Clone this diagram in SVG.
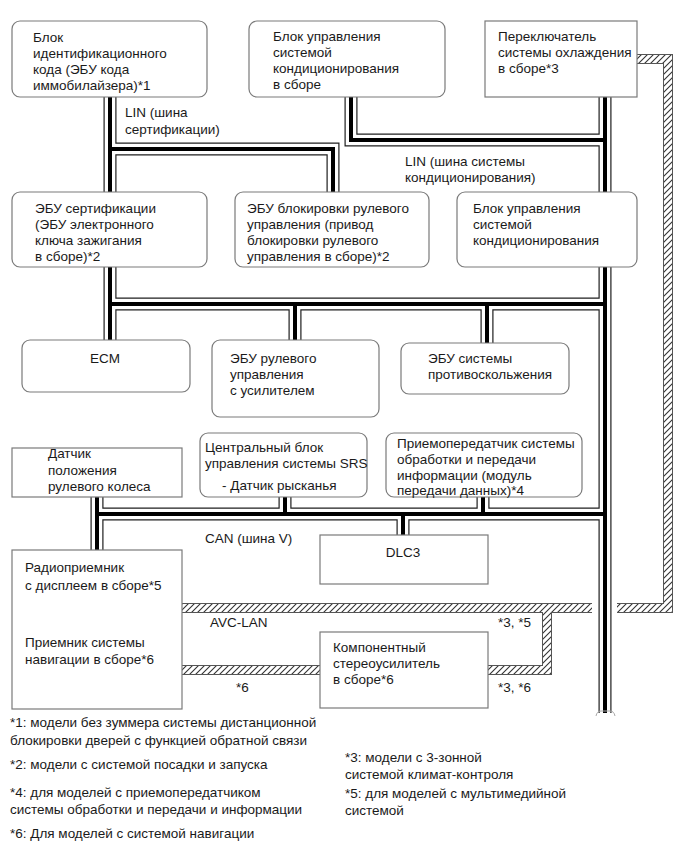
<svg xmlns="http://www.w3.org/2000/svg" width="690" height="855" viewBox="0 0 690 855">
<style>
.box{fill:#fff;stroke:#7a7a7a;stroke-width:1.2}
.t{font-family:"Liberation Sans",Arial,sans-serif;font-size:13.5px;fill:#1a1a1a}
.m{text-anchor:middle}
.bo{fill:none;stroke:#1e1e1e;stroke-width:13}
.bw{fill:none;stroke:#fff;stroke-width:10.6}
.bi{fill:none;stroke:#000;stroke-width:4}
.ho{fill:none;stroke:#555;stroke-width:10;stroke-linejoin:miter}
.hw{fill:none;stroke:url(#hatch);stroke-width:8;stroke-linejoin:miter}
</style>
<defs>
<pattern id="hatch" patternUnits="userSpaceOnUse" width="6" height="6">
<rect width="6" height="6" fill="#fff"/>
<path d="M-1,7 L7,-1 M-1,1 L1,-1 M5,7 L7,5" stroke="#333" stroke-width="1.1"/>
</pattern>
<path id="bus" d="M110,95 V194 M110,149 H333 V194 M351,95 V140 H605 M605,95 V194 M110,265 V342 M110,304 H605 M295,304 V342 M487,304 V345 M605,265 V713 M97,495 V552 M97,514 H605 M285,495 V514 M483,495 V514 M403,514 V537"/>
<path id="avc" d="M635,59 H668 V608 H617 M180,608 H592 M547,608 V670 H486 M180,670 H322"/>
</defs>
<g id="connectors">
<use href="#bus" class="bo"/>
<use href="#bus" class="bw"/>
<use href="#bus" class="bi"/>
<use href="#avc" class="ho"/>
<use href="#avc" class="hw"/>
<path d="M596,716 Q597,711 601,711 H610 Q614,711 615,716" fill="none" stroke="#aaa" stroke-width="1"/>
<text class="t" x="125" y="117">LIN (шина</text>
<text class="t" x="125" y="134">сертификации)</text>
<text class="t" x="405" y="166">LIN (шина системы</text>
<text class="t" x="405" y="182">кондиционирования)</text>
<text class="t" x="205" y="543">CAN (шина V)</text>
<text class="t" x="210" y="627">AVC-LAN</text>
<text class="t" x="236" y="692">*6</text>
<text class="t" x="498" y="627">*3, *5</text>
<text class="t" x="498" y="692">*3, *6</text>
</g>
<g id="immobiliser">
<rect class="box" x="12" y="21" width="195" height="76" rx="8"/>
<text class="t" x="33" y="42">Блок</text>
<text class="t" x="33" y="58">идентификационного</text>
<text class="t" x="33" y="74">кода (ЭБУ кода</text>
<text class="t" x="33" y="90">иммобилайзера)*1</text>
</g>
<g id="ac-assembly">
<rect class="box" x="249" y="21" width="196" height="76" rx="8"/>
<text class="t" x="273" y="41">Блок управления</text>
<text class="t" x="273" y="57">системой</text>
<text class="t" x="273" y="73">кондиционирования</text>
<text class="t" x="273" y="89">в сборе</text>
</g>
<g id="cooling-switch">
<rect class="box" x="485" y="21" width="152" height="76"/>
<text class="t" x="498" y="41">Переключатель</text>
<text class="t" x="498" y="57">системы охлаждения</text>
<text class="t" x="498" y="73">в сборе*3</text>
</g>
<g id="cert-ecu">
<rect class="box" x="12" y="192" width="195" height="75" rx="8"/>
<text class="t" x="35" y="213">ЭБУ сертификации</text>
<text class="t" x="35" y="229">(ЭБУ электронного</text>
<text class="t" x="35" y="245">ключа зажигания</text>
<text class="t" x="35" y="261">в сборе)*2</text>
</g>
<g id="steering-lock-ecu">
<rect class="box" x="235" y="192" width="194" height="75" rx="8"/>
<text class="t" x="247" y="213">ЭБУ блокировки рулевого</text>
<text class="t" x="247" y="229">управления (привод</text>
<text class="t" x="247" y="245">блокировки рулевого</text>
<text class="t" x="247" y="261">управления в сборе)*2</text>
</g>
<g id="ac-ecu">
<rect class="box" x="457" y="192" width="180" height="75" rx="8"/>
<text class="t" x="473" y="213">Блок управления</text>
<text class="t" x="473" y="229">системой</text>
<text class="t" x="473" y="245">кондиционирования</text>
</g>
<g id="ecm">
<rect class="box" x="22" y="340" width="168" height="52" rx="8"/>
<text class="t m" x="105" y="363">ECM</text>
</g>
<g id="eps-ecu">
<rect class="box" x="212" y="340" width="167" height="77" rx="8"/>
<text class="t" x="230" y="363">ЭБУ рулевого</text>
<text class="t" x="230" y="379">управления</text>
<text class="t" x="230" y="395">с усилителем</text>
</g>
<g id="skid-ecu">
<rect class="box" x="401" y="343" width="168" height="51" rx="8"/>
<text class="t" x="428" y="363">ЭБУ системы</text>
<text class="t" x="428" y="379">противоскольжения</text>
</g>
<g id="steering-sensor">
<rect class="box" x="12" y="448" width="170" height="49"/>
<text class="t" x="48" y="458">Датчик</text>
<text class="t" x="48" y="475">положения</text>
<text class="t" x="48" y="491">рулевого колеса</text>
</g>
<g id="srs">
<rect class="box" x="200" y="433" width="167" height="64" rx="8"/>
<text class="t" x="205" y="452">Центральный блок</text>
<text class="t" x="205" y="468">управления системы SRS</text>
<text class="t" x="222" y="490">- Датчик рысканья</text>
</g>
<g id="dcm">
<rect class="box" x="386" y="433" width="196" height="64" rx="8"/>
<text class="t" x="397" y="448">Приемопередатчик системы</text>
<text class="t" x="397" y="464">обработки и передачи</text>
<text class="t" x="397" y="480">информации (модуль</text>
<text class="t" x="397" y="495">передачи данных)*4</text>
</g>
<g id="dlc3">
<rect class="box" x="320" y="535" width="168" height="49"/>
<text class="t m" x="403" y="557">DLC3</text>
</g>
<g id="radio">
<rect class="box" x="12" y="550" width="170" height="159"/>
<text class="t" x="25" y="572">Радиоприемник</text>
<text class="t" x="25" y="590">с дисплеем в сборе*5</text>
<text class="t" x="25" y="647">Приемник системы</text>
<text class="t" x="25" y="664">навигации в сборе*6</text>
</g>
<g id="amplifier">
<rect class="box" x="320" y="632" width="168" height="76"/>
<text class="t" x="333" y="652">Компонентный</text>
<text class="t" x="333" y="668">стереоусилитель</text>
<text class="t" x="333" y="684">в сборе*6</text>
</g>
<g id="notes">
<text class="t" x="10" y="727">*1: модели без зуммера системы дистанционной</text>
<text class="t" x="10" y="745">блокировки дверей с функцией обратной связи</text>
<text class="t" x="10" y="769">*2: модели с системой посадки и запуска</text>
<text class="t" x="10" y="797">*4: для моделей с приемопередатчиком</text>
<text class="t" x="10" y="814">системы обработки и передачи и информации</text>
<text class="t" x="10" y="838">*6: Для моделей с системой навигации</text>
<text class="t" x="345" y="762">*3: модели с 3-зонной</text>
<text class="t" x="345" y="779">системой климат-контроля</text>
<text class="t" x="345" y="798">*5: для моделей с мультимедийной</text>
<text class="t" x="345" y="815">системой</text>
</g>
</svg>
